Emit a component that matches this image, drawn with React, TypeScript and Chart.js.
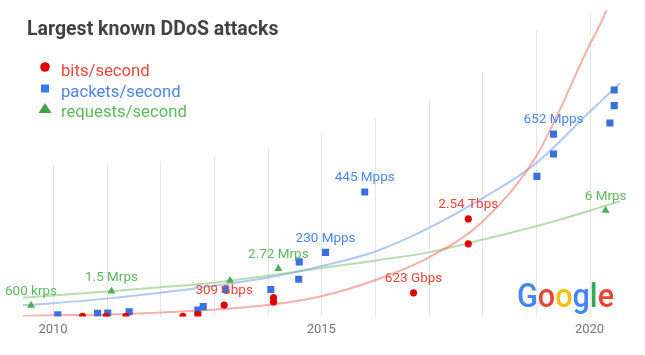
import React, { useEffect, useRef } from "react";
import { Chart, registerables } from "chart.js";

Chart.register(...registerables);

// ---------- data ----------
const chartTitle = "Largest known DDoS attacks";
const seriesNames = ["bits/second", "packets/second", "requests/second"];
const yearTickStep = 5;
const gridYears = [2010, 2011, 2012, 2013, 2014, 2015, 2016, 2017, 2018, 2019, 2020];

const bitsYears = [2010.55, 2010.99, 2011.36, 2012.42, 2012.7, 2013.19, 2014.11, 2014.11, 2016.72, 2017.74, 2017.74];
const bitsValues = [0, 0, 0, 0, 0.6, 3.7, 6.1, 4.7, 7.7, 31.8, 23.7];
const bitsLabels = ["", "", "", "", "", "309 Gbps", "", "", "623 Gbps", "2.54 Tbps", ""];

const packetsYears = [2010.09, 2010.83, 2011.02, 2011.42, 2012.7, 2012.8, 2013.21, 2014.06, 2014.58, 2014.59, 2015.08, 2015.81, 2019.02, 2019.33, 2019.33, 2020.38, 2020.46, 2020.46];
const packetsValues = [0.55, 1.0, 1.1, 1.5, 2.1, 3.2, 8.8, 8.8, 12.1, 17.8, 20.9, 40.6, 45.7, 53.0, 59.5, 63.1, 68.8, 73.9];
const packetsLabels = ["", "", "", "", "", "", "", "", "", "", "230 Mpps", "445 Mpps", "", "", "652 Mpps", "", "", ""];

const requestsYears = [2009.59, 2011.09, 2013.3, 2014.2, 2020.3];
const requestsValues = [3.6, 8.2, 11.7, 15.6, 34.6];
const requestsLabels = ["600 krps", "1.5 Mrps", "", "2.72 Mrps", "6 Mrps"];

const trendYears = [2009.44, 2010, 2011, 2012, 2013, 2014, 2015, 2016, 2017, 2018, 2019, 2020, 2020.29, 2020.57];
const bitsTrend = [0.1, 0.35, 0.65, 1.3, 2.2, 3.7, 6.6, 11.8, 19.2, 30.8, 52.0, 88.6, 98.9, 114];
const packetsTrend = [3.6, 4.3, 5.8, 7.7, 10.0, 12.6, 16.4, 21.1, 28.8, 38.5, 49.9, 66.7, 71.5, 76.2];
const requestsTrend = [6.1, 6.8, 8.1, 9.5, 11.0, 13.3, 15.8, 18.2, 20.9, 25.0, 29.4, 34.5, 36.1, 37.6];

// ---------- styles ----------
const FONT = "Roboto, 'Noto Sans', sans-serif";
const RED = "#e00000";
const BLUE = "#3a6fdd";
const GREEN = "#4caf50";
const RED_TEXT = "#e8453c";
const BLUE_TEXT = "#4f84e6";
const GREEN_TEXT = "#5cb85c";
const GRID_TOPS = [166, 164, 161, 155, 147, 133, 118, 98, 72, 30, 13];

const pts = (xs: number[], ys: number[]) => xs.map((x, i) => ({ x, y: ys[i] }));

const overlayPlugin = {
  id: "overlay",
  beforeDatasetsDraw(chart: any) {
    const ctx = chart.ctx;
    const xs = chart.scales.x;
    const bottom = chart.chartArea.bottom + 1;
    ctx.save();
    ctx.strokeStyle = "#e6e6e6";
    ctx.lineWidth = 1;
    gridYears.forEach((yr, i) => {
      const px = Math.round(xs.getPixelForValue(yr)) + 0.5;
      ctx.beginPath();
      ctx.moveTo(px, GRID_TOPS[i]);
      ctx.lineTo(px, bottom);
      ctx.stroke();
    });
    ctx.restore();
  },
  afterDatasetsDraw(chart: any) {
    const ctx = chart.ctx;
    ctx.save();
    // point labels
    const labelSets: [number, string[], string][] = [
      [3, bitsLabels, RED_TEXT],
      [4, packetsLabels, BLUE_TEXT],
      [5, requestsLabels, GREEN_TEXT],
    ];
    ctx.font = `13.5px ${FONT}`;
    ctx.textAlign = "center";
    ctx.textBaseline = "middle";
    labelSets.forEach(([di, labels, color]) => {
      const meta = chart.getDatasetMeta(di);
      meta.data.forEach((el: any, i: number) => {
        const t = labels[i];
        if (!t) return;
        ctx.fillStyle = color;
        ctx.fillText(t, el.x, el.y - 14);
      });
    });

    // title
    ctx.textAlign = "left";
    ctx.textBaseline = "alphabetic";
    ctx.fillStyle = "#424242";
    ctx.font = `bold 19.5px ${FONT}`;
    ctx.fillText(chartTitle, 27, 35);

    // legend
    const lx = 45;
    const rows = [67, 88.5, 108.5];
    const colors = [RED, "#3b78e7", "#43a047"];
    const textColors = [RED_TEXT, BLUE_TEXT, GREEN_TEXT];
    ctx.font = `16.7px ${FONT}`;
    rows.forEach((cy, i) => {
      ctx.fillStyle = colors[i];
      ctx.beginPath();
      if (i === 0) {
        ctx.arc(lx, cy, 4.8, 0, Math.PI * 2);
      } else if (i === 1) {
        ctx.rect(lx - 4, cy - 4, 8, 8);
      } else {
        ctx.moveTo(lx - 6.5, cy + 4.5);
        ctx.lineTo(lx + 6.5, cy + 4.5);
        ctx.lineTo(lx, cy - 5.5);
        ctx.closePath();
      }
      ctx.fill();
      ctx.fillStyle = textColors[i];
      ctx.fillText(seriesNames[i], 61, cy + 8.5);
    });

    // Google logo
    const letters = ["G", "o", "o", "g", "l", "e"];
    const lcolors = ["#4285F4", "#EA4335", "#FBBC05", "#4285F4", "#34A853", "#EA4335"];
    ctx.font = `500 33px ${FONT}`;
    const total = letters.reduce((s, l) => s + ctx.measureText(l).width, 0);
    const sx = 97 / total;
    ctx.translate(517, 306.5);
    ctx.scale(sx, 1);
    let gx = 0;
    letters.forEach((l, i) => {
      ctx.fillStyle = lcolors[i];
      ctx.fillText(l, gx, 0);
      gx += ctx.measureText(l).width;
    });
    ctx.restore();
  },
};

export default function App() {
  const ref = useRef<HTMLCanvasElement | null>(null);
  useEffect(() => {
    if (!ref.current) return;
    const chart = new Chart(ref.current, {
      type: "scatter",
      data: {
        datasets: [
          {
            label: "bits trend",
            data: pts(trendYears, bitsTrend),
            showLine: true,
            borderColor: "rgba(240,120,110,0.6)",
            borderWidth: 2,
            pointRadius: 0,
            cubicInterpolationMode: "monotone",
            order: 2,
          },
          {
            label: "packets trend",
            data: pts(trendYears, packetsTrend),
            showLine: true,
            borderColor: "rgba(110,155,235,0.55)",
            borderWidth: 2,
            pointRadius: 0,
            cubicInterpolationMode: "monotone",
            order: 2,
          },
          {
            label: "requests trend",
            data: pts(trendYears, requestsTrend),
            showLine: true,
            borderColor: "rgba(120,195,110,0.55)",
            borderWidth: 2,
            pointRadius: 0,
            cubicInterpolationMode: "monotone",
            order: 2,
          },
          {
            label: seriesNames[0],
            data: pts(bitsYears, bitsValues),
            pointStyle: "circle",
            pointRadius: 3.6,
            backgroundColor: RED,
            borderWidth: 0,
            clip: 0,
            order: 1,
          },
          {
            label: seriesNames[1],
            data: pts(packetsYears, packetsValues),
            pointStyle: "rect",
            pointRadius: 5,
            backgroundColor: BLUE,
            borderWidth: 0,
            order: 1,
          },
          {
            label: seriesNames[2],
            data: pts(requestsYears, requestsValues),
            pointStyle: "triangle",
            pointRadius: 4.6,
            backgroundColor: GREEN,
            borderWidth: 0,
            order: 1,
          },
        ],
      } as any,
      options: {
        animation: false,
        responsive: false,
        devicePixelRatio: 1,
        layout: { autoPadding: false, padding: { top: 10, left: 0, right: 0, bottom: 11 } },
        plugins: { legend: { display: false }, tooltip: { enabled: false }, title: { display: false } },
        scales: {
          x: {
            type: "linear",
            min: 2009.012,
            max: 2021.034,
            grid: { display: false, drawTicks: false },
            border: { display: false },
            ticks: {
              stepSize: yearTickStep,
              includeBounds: false,
              maxRotation: 0,
              padding: 6,
              color: "#757575",
              font: { family: FONT, size: 13 },
              callback: (v: any) => String(v),
            },
          },
          y: { display: false, min: 0, max: 100 },
        },
      } as any,
      plugins: [overlayPlugin],
    });
    return () => chart.destroy();
  }, []);
  return (
    <div style={{ position: "absolute", left: 0, top: 0, width: 645, height: 355, background: "#fff" }}>
      <canvas ref={ref} width={645} height={355} style={{ display: "block" }} />
    </div>
  );
}
